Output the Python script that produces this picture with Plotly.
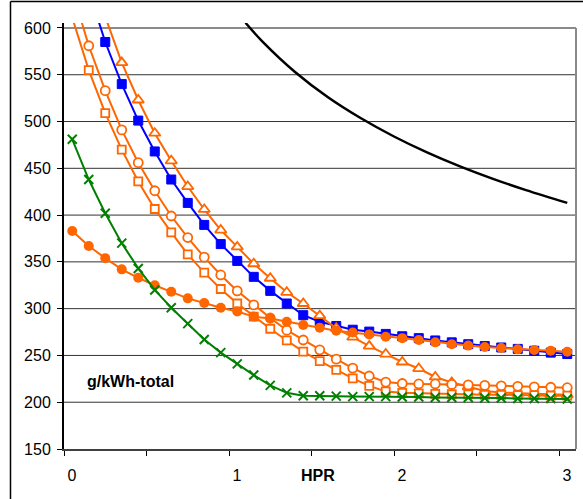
import plotly.graph_objects as go

# HPR values at which the marker series are sampled
hpr = [0.05, 0.15, 0.25, 0.35, 0.45, 0.55, 0.65, 0.75, 0.85, 0.95,
       1.05, 1.15, 1.25, 1.35, 1.45, 1.55, 1.65, 1.75, 1.85, 1.95,
       2.05, 2.15, 2.25, 2.35, 2.45, 2.55, 2.65, 2.75, 2.85, 2.95, 3.05]

green_x = [481, 438, 402, 370, 343, 320, 301, 284, 267, 253,
           241, 229, 218, 210, 207, 207, 206.5, 206, 206, 206,
           205.5, 205.5, 205, 205, 205, 204.5, 204.5, 204, 204, 204, 203.5]

orange_filled = [383, 367, 354, 342, 333, 325, 318, 311, 306, 301,
                 297, 291.5, 289.5, 286, 282.5, 279.5, 276.5, 274.5, 272.5, 270,
                 268.5, 266.5, 264, 262, 260.5, 259, 258, 256.5, 255.8, 255, 254]

hpr_blue = hpr[1:]
blue_sq = [640, 585, 540, 501, 468, 438, 413, 389.5, 369,
           351, 334, 319, 305.5, 293, 286, 281.5, 277.5, 275.5, 273,
           270.5, 268.5, 266, 264, 262, 260, 258.5, 257, 255, 253, 251.5]

hpr_tri = hpr[2:]
orange_tri = [612, 563, 523, 487.5, 458, 430.5, 406, 384,
              366, 348, 332.5, 317.5, 305.5, 292.5, 279, 269.5, 260, 251.5,
              243, 236, 227, 221, 216.5, 212, 210.5, 209.5, 209, 208.5, 208]

orange_open_circ = [640, 581, 533, 491, 456, 426, 399, 376, 355, 336,
                    319, 304, 290, 277, 266.5, 256, 246, 236.5, 228, 221.5,
                    220, 219.5, 219.5, 219, 218.5, 218, 217.5, 217, 216.5, 216, 215.5]

orange_open_sq = [611, 555, 509, 470, 436, 406.5, 381.5, 358, 338.5, 321,
                  305.5, 291.5, 278.5, 266, 254, 244, 234.5, 225.5, 217.5, 211.5,
                  210, 209.5, 209, 208.5, 208.5, 208, 208, 207.5, 207.5, 207, 207]

# black reference curve (no markers)
hpr_black = [1.10, 1.20, 1.40, 1.60, 1.80, 2.00, 2.20, 2.40, 2.60, 2.80, 3.05]
black_curve = [605.5, 586, 553, 526, 503.5, 484, 467, 452, 438.7, 426.7, 413]

x_tickvals = [0, 0.5, 1, 1.5, 2, 2.5, 3]
x_ticktext = ["0", "", "1", "", "2", "", "3"]
y_tickvals = [150, 200, 250, 300, 350, 400, 450, 500, 550, 600]
y_grid = [200, 250, 300, 350, 400, 450, 500, 550]

ORANGE = "#FF6600"
BLUE = "#0000FF"
GREEN = "#008000"
FONT = "Liberation Sans, Arial, sans-serif"

fig = go.Figure()

fig.add_trace(go.Scatter(x=hpr_black, y=black_curve, mode="lines",
                         line=dict(color="black", width=2.5, shape="spline")))
fig.add_trace(go.Scatter(x=hpr_blue, y=blue_sq, mode="lines+markers",
                         line=dict(color=BLUE, width=2),
                         marker=dict(symbol="square", size=9, color=BLUE,
                                     line=dict(color=BLUE, width=1))))
fig.add_trace(go.Scatter(x=hpr_tri, y=orange_tri, mode="lines+markers",
                         line=dict(color=ORANGE, width=2),
                         marker=dict(symbol="triangle-up", size=10, color="white",
                                     line=dict(color=ORANGE, width=1.8))))
fig.add_trace(go.Scatter(x=hpr, y=orange_open_circ, mode="lines+markers",
                         line=dict(color=ORANGE, width=2),
                         marker=dict(symbol="circle", size=9, color="white",
                                     line=dict(color=ORANGE, width=1.8))))
fig.add_trace(go.Scatter(x=hpr, y=orange_open_sq, mode="lines+markers",
                         line=dict(color=ORANGE, width=2),
                         marker=dict(symbol="square", size=8, color="white",
                                     line=dict(color=ORANGE, width=1.8))))
fig.add_trace(go.Scatter(x=hpr, y=orange_filled, mode="lines+markers",
                         line=dict(color=ORANGE, width=2),
                         marker=dict(symbol="circle", size=10, color=ORANGE,
                                     line=dict(color=ORANGE, width=0))))
fig.add_trace(go.Scatter(x=hpr, y=green_x, mode="lines+markers",
                         line=dict(color=GREEN, width=2),
                         marker=dict(symbol="x-thin", size=9, color=GREEN,
                                     line=dict(color=GREEN, width=2))))

shapes = []
# horizontal grid lines
for g in y_grid:
    shapes.append(dict(type="line", xref="paper", yref="y", x0=0, x1=1, y0=g, y1=g,
                       line=dict(color="#333333", width=1), layer="below"))
# plot-area border (top and right, grey)
shapes.append(dict(type="line", xref="paper", yref="y", x0=0, x1=1, y0=600, y1=600,
                   line=dict(color="#8a8a8a", width=2), layer="below"))
shapes.append(dict(type="line", xref="paper", yref="y", x0=1, x1=1, y0=150, y1=600,
                   line=dict(color="#8a8a8a", width=2), layer="below"))
# chart-area outer border (left and top, black)
shapes.append(dict(type="line", xref="paper", yref="paper", x0=-0.1045, x1=1.2,
                   y0=1.0505, y1=1.0505, line=dict(color="black", width=1.5)))
shapes.append(dict(type="line", xref="paper", yref="paper", x0=-0.1045, x1=-0.1045,
                   y0=-0.2, y1=1.0505, line=dict(color="black", width=1.5)))

fig.update_layout(
    width=583, height=499,
    margin=dict(l=64, r=7, t=23, b=50),
    paper_bgcolor="white", plot_bgcolor="white",
    showlegend=False,
    font=dict(family=FONT, size=16, color="black"),
    shapes=shapes,
    annotations=[
        dict(text="<b>g/kWh-total</b>", x=0.406, y=222, xref="x", yref="y",
             showarrow=False, xanchor="center", yanchor="middle",
             font=dict(family=FONT, size=16, color="black")),
        dict(text="<b>HPR</b>", x=1.541, y=-0.063, xref="x", yref="paper",
             showarrow=False, xanchor="center", yanchor="middle",
             font=dict(family=FONT, size=16, color="black")),
    ],
)

fig.update_xaxes(range=[0, 3.103], tickvals=x_tickvals, ticktext=x_ticktext,
                 ticks="outside", ticklen=5, tickcolor="black", tickwidth=1,
                 showline=True, linecolor="#404040", linewidth=2,
                 showgrid=False, zeroline=False, ticklabelshift=8,
                 ticklabelstandoff=6,
                 tickfont=dict(family=FONT, size=16, color="black"))
fig.update_yaxes(range=[150, 605.3], tickvals=y_tickvals,
                 ticks="outside", ticklen=5, tickcolor="black", tickwidth=1,
                 showline=True, linecolor="black", linewidth=2,
                 showgrid=False, zeroline=False, ticklabelstandoff=3,
                 tickfont=dict(family=FONT, size=16, color="black"))

fig.write_html("out.html", config={"displayModeBar": False},
               post_script="document.body.style.margin='0';document.body.style.padding='0';")
